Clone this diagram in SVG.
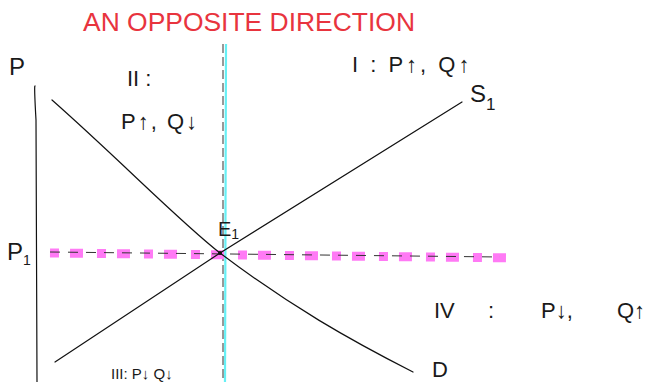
<svg xmlns="http://www.w3.org/2000/svg" width="659" height="382" viewBox="0 0 659 382">
<style>
.lbl{font-family:"Liberation Sans","DejaVu Sans",sans-serif;fill:#1a1a1a;font-weight:normal}
.red{font-family:"Liberation Sans","DejaVu Sans",sans-serif;fill:#e8343e}
.ln{fill:none;stroke:#111;stroke-width:1.2;stroke-linecap:round}
</style>
<rect width="659" height="382" fill="#fff"/>
<g id="title"><text class="red" x="83" y="31" font-size="25" textLength="332" lengthAdjust="spacingAndGlyphs">AN OPPOSITE DIRECTION</text></g>
<g id="connectors">
  <path class="ln" d="M35,86 Q34,85 36,120 L37,382"/>
  <line x1="226" y1="44" x2="225" y2="382" stroke="#66f0f5" stroke-width="2.2"/>
  <line x1="223" y1="44" x2="223" y2="382" stroke="#333" stroke-width="1" stroke-dasharray="9,4"/>
  <line x1="50" y1="253" x2="518" y2="258" stroke="#ff7af5" stroke-width="9" stroke-dasharray="9,11,13,14"/>
  <line x1="50" y1="252" x2="500" y2="257" stroke="#333" stroke-width="1" stroke-dasharray="10,8"/>
  <path class="ln" d="M55,362 L220,253 L462,102"/>
  <path class="ln" d="M52,100 C120,160 180,222 220,253 C290,306 350,340 413,372"/>
  <circle cx="220" cy="253" r="2" fill="#111"/>
</g>
<g id="P"><text class="lbl" x="9" y="75" font-size="24">P</text></g>
<g id="P1"><text class="lbl" x="7" y="260" font-size="24">P<tspan font-size="14" dy="5">1</tspan></text></g>
<g id="S1"><text class="lbl" x="470" y="102" font-size="24">S<tspan font-size="17" dy="8">1</tspan></text></g>
<g id="E1"><text class="lbl" x="218" y="236" font-size="20">E<tspan font-size="14" dy="3">1</tspan></text></g>
<g id="D"><text class="lbl" x="432" y="377" font-size="22">D</text></g>
<g id="regionII"><text class="lbl" x="127" y="86" font-size="22">II :</text><text class="lbl" x="121" y="129" font-size="22" letter-spacing="2">P↑, Q↓</text></g>
<g id="regionI"><text class="lbl" x="352" y="72" font-size="22" letter-spacing="3">I : P↑, Q↑</text></g>
<g id="regionIV"><text class="lbl" y="318" font-size="22"><tspan x="434">IV</tspan><tspan x="488">:</tspan><tspan x="541">P↓,</tspan><tspan x="617">Q↑</tspan></text></g>
<g id="regionIII"><text class="lbl" x="111" y="379" font-size="15">III: P↓ Q↓</text></g>
</svg>
